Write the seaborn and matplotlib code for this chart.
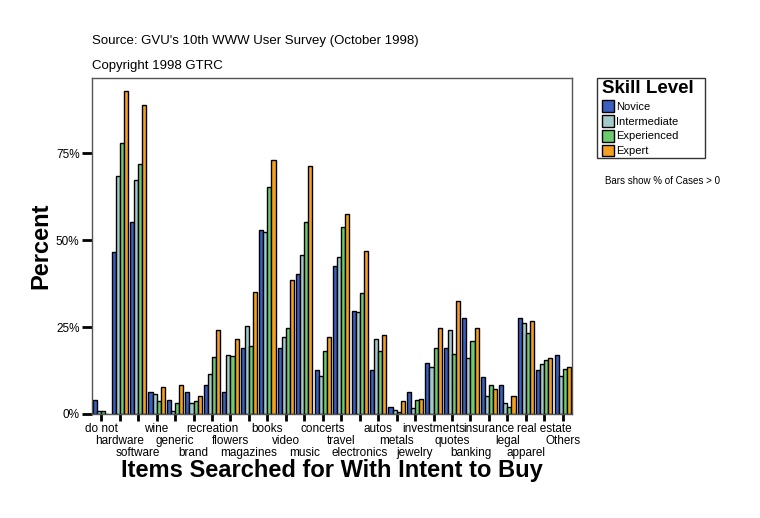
import numpy as np
import pandas as pd
import matplotlib
matplotlib.use("Agg")
import matplotlib.pyplot as plt
import seaborn as sns
from matplotlib.patches import Patch, Rectangle

categories = ["do not", "hardware", "software", "wine", "generic", "brand",
              "recreation", "flowers", "magazines", "books", "video", "music",
              "concerts", "travel", "electronics", "autos", "metals", "jewelry",
              "investments", "quotes", "banking", "insurance", "legal",
              "apparel", "real estate", "Others"]
novice = [4.0, 46.5, 55.2, 6.3, 4.0, 6.3, 8.3, 6.3, 19.0, 53.0, 19.0, 40.2, 12.6,
          42.5, 29.6, 12.6, 2.0, 6.3, 14.6, 19.0, 27.6, 10.5, 8.3, 27.6, 12.6, 17.0]
intermediate = [1.0, 68.4, 67.2, 5.7, 1.0, 3.2, 11.5, 17.0, 25.3, 52.2, 22.1, 45.7,
                10.9, 45.1, 29.3, 21.6, 1.1, 1.7, 13.5, 24.1, 16.1, 5.2, 3.2, 26.1,
                14.4, 10.9]
experienced = [0.8, 77.9, 71.8, 3.7, 3.3, 3.7, 16.4, 16.7, 19.5, 65.2, 24.7, 55.2,
               18.1, 53.7, 34.8, 18.1, 0.6, 4.0, 19.0, 17.2, 21.0, 8.3, 2.0, 23.3,
               15.5, 12.9]
expert = [0.0, 92.8, 88.9, 7.8, 8.3, 5.2, 24.1, 21.6, 35.1, 73.0, 38.5, 71.3, 22.1,
          57.4, 46.8, 22.7, 3.7, 4.3, 24.7, 32.5, 24.7, 7.2, 5.2, 26.7, 16.1, 13.5]
levels = ["Novice", "Intermediate", "Experienced", "Expert"]
colors = ["#3A5FBF", "#A3C9C9", "#6CCB6C", "#F4A020"]
yticks = [0, 25, 50, 75]
ytick_labels = ["0%", "25%", "50%", "75%"]

rows = []
for lvl, vals in zip(levels, [novice, intermediate, experienced, expert]):
    for c, v in zip(categories, vals):
        rows.append({"Item": c, "Level": lvl, "Percent": v})
df = pd.DataFrame(rows)

sns.set_style("white")
plt.rcParams["font.family"] = ["Liberation Sans", "DejaVu Sans"]
plt.rcParams["text.color"] = "black"
plt.rcParams["axes.labelcolor"] = "black"
plt.rcParams["xtick.color"] = "black"
plt.rcParams["ytick.color"] = "black"

fig = plt.figure(figsize=(7.6, 5.18), dpi=100)
ax = fig.add_axes([92/760, 1-414/518, (572-92)/760, (414-78)/518])

sns.barplot(data=df, x="Item", y="Percent", hue="Level", order=categories,
            hue_order=levels, palette=colors, width=0.88, edgecolor="black",
            linewidth=1.0, saturation=1, errorbar=None, ax=ax, legend=False)

ax.set_xlim(-0.5, len(categories) - 0.5)
ax.set_ylim(0, 96.6)
ax.set_yticks(yticks)
ax.set_yticklabels(ytick_labels, fontsize=8.5, color="black")
ax.set_xticks(range(len(categories)))
ax.set_xticklabels([""] * len(categories))
# staggered category labels in three rows
trans = ax.get_xaxis_transform()
for i, c in enumerate(categories):
    ax.text(i, -(9 + 12 * (i % 3)) / 336, c, transform=trans, ha="center",
            va="top", fontsize=8.5, color="black")
ax.tick_params(axis="y", length=7, width=2, direction="out", color="black", pad=2, left=True)
ax.tick_params(axis="x", length=5, width=2, direction="out", color="black", pad=2, bottom=True)
for s in ax.spines.values():
    s.set_color("#555555")
    s.set_linewidth(1.0)
    s.set_visible(True)
ax.set_xlabel("Items Searched for With Intent to Buy", fontsize=17, fontweight="heavy",
              color="black")
ax.xaxis.set_label_coords(0.5, -(470 - 414) / 336)
ax.xaxis.label.set_va("center")
ax.set_ylabel("Percent", fontsize=17, fontweight="heavy", color="black")
ax.yaxis.set_label_coords((41 - 92) / 480, 0.5)
ax.yaxis.label.set_va("center")

fig.text(92/760, 1-41/518, "Source: GVU's 10th WWW User Survey (October 1998)",
         fontsize=9.5, va="center", ha="left")
fig.text(92/760, 1-66/518, "Copyright 1998 GTRC", fontsize=9.5, va="center", ha="left")

handles = [Patch(facecolor=c, edgecolor="black", linewidth=1.0) for c in colors]
leg = fig.legend(handles, levels, loc="upper left", bbox_to_anchor=(602/760, 1-80/518),
                 title="Skill Level", fontsize=8, frameon=False,
                 handlelength=1.1, handleheight=1.25, handletextpad=0.15,
                 labelspacing=0.28, borderpad=0, borderaxespad=0)
leg.get_title().set_fontsize(13.5)
leg.get_title().set_fontweight("heavy")
leg._legend_box.align = "left"
fig.patches.append(Rectangle((597/760, 1-158/518), 108/760, 80/518,
                             transform=fig.transFigure, fill=False,
                             edgecolor="#333333", linewidth=1.0))
fig.text(605/760, 1-181/518, "Bars show % of Cases > 0", fontsize=7, va="center", ha="left")

fig.savefig("out.png", dpi=100, facecolor="white")
